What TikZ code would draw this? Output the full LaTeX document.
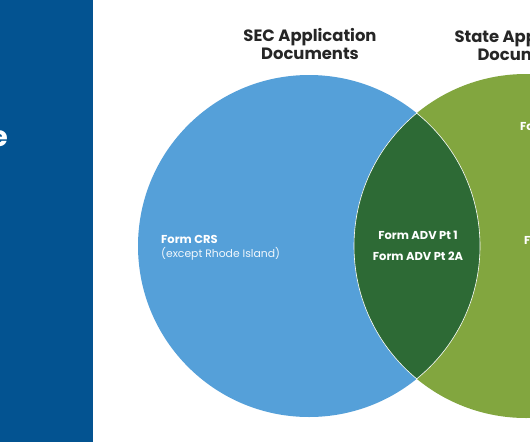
\documentclass[tikz,border=0pt]{standalone}
\usepackage{fontspec}
\setmainfont{Poppins}
\definecolor{panel}{HTML}{035391}
\definecolor{secblue}{HTML}{55A0D9}
\definecolor{stgreen}{HTML}{82A63F}
\definecolor{lensgreen}{HTML}{2D6A35}
\begin{document}
\begin{tikzpicture}[x=1pt,y=-1pt,
  title/.style={font=\bfseries\fontsize{16.4}{18}\selectfont, align=center, text=black!85},
  label/.style={font=\bfseries\fontsize{11.5}{13}\selectfont, text=white},
  sublabel/.style={font=\fontsize{10.8}{13}\selectfont, text=white!92!secblue}]
\useasboundingbox (0,0) rectangle (530,442);
\clip (0,0) rectangle (530,442);
\fill[white] (0,0) rectangle (530,442);
\fill[panel] (0,0) rectangle (93,442);
\node[font=\bfseries\fontsize{28}{30}\selectfont, text=white, anchor=base east, inner sep=0] (pe) at (8,146) {e};
% circles
\fill[secblue] (309,246) circle (171);
\fill[stgreen] (526,246) circle (172);
\begin{scope}
  \clip (309,246) circle (171);
  \fill[lensgreen, draw=white, line width=0.6pt] (526,246) circle (172);
\end{scope}
\begin{scope}
  \clip (526,246) circle (172);
  \draw[white, line width=0.6pt] (309,246) circle (171);
\end{scope}
% titles
\node[title] (sec) at (310,44) {SEC Application\\Documents};
\node[title, anchor=north west, align=left] (st) at (451,26) {State Application\\\hspace*{23pt}Documents};
% labels
\node[label, anchor=base west, inner sep=0] (crs) at (161,243) {Form CRS};
\node[sublabel, anchor=base west, inner sep=0] (crs2) at (161,257) {(except Rhode Island)};
\node[label, inner sep=0] (adv1) at (418,235) {Form ADV Pt 1};
\node[label, inner sep=0] (adv2) at (418,256) {Form ADV Pt 2A};
\node[label, anchor=base west, inner sep=0] (g1) at (520,130) {Form};
\node[label, anchor=base west, inner sep=0] (g2) at (524,244) {Form};
\end{tikzpicture}
\end{document}
